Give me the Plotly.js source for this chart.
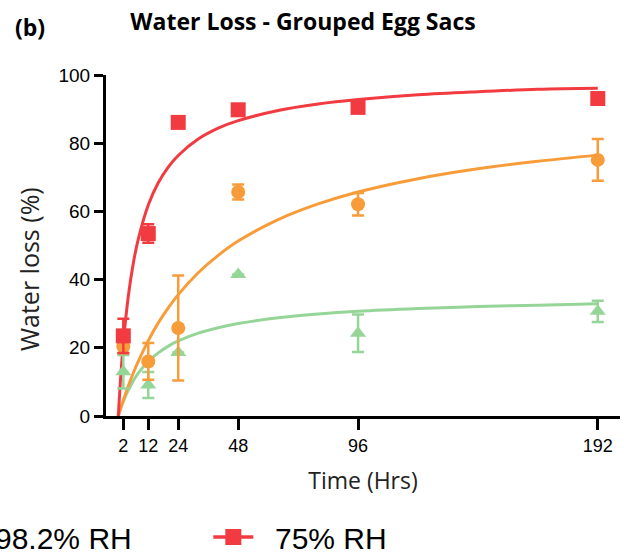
<!DOCTYPE html>
<html>
<head>
<meta charset="utf-8">
<script src="https://cdn.plot.ly/plotly-3.0.1.min.js"></script>
<style>
  html, body { margin: 0; padding: 0; background: #fff; overflow: hidden; }
  #chart { width: 624px; height: 558px; }
</style>
</head>
<body>
<div id="chart"></div>
<script>
// ---- Data ----
const hours = [2, 12, 24, 48, 96, 192];
const hourLabels = ['2', '12', '24', '48', '96', '192'];

const rh75 = [23.5, 53.5, 86.1, 89.8, 90.5, 93.1];
const rh75Err = [5.0, 2.7, 0, 0, 0, 0];

const orangeVals = [20.4, 16.0, 25.8, 65.7, 62.1, 75.1];
const orangeErr = [2.0, 5.4, 15.4, 2.2, 3.3, 6.1];

const rh982 = [13.0, 9.1, 18.6, 41.5, 24.3, 30.7];
const rh982Err = [4.9, 3.8, 0, 0, 5.5, 3.1];

// fitted curves
const fitHours = [0, 1, 2, 4, 6, 8, 12, 16, 20, 24, 32, 40, 48, 64, 80, 96, 120, 144, 168, 192];
const fit75 = [0, 11.9, 21.3, 35.1, 44.8, 51.9, 61.9, 68.4, 73.0, 76.4, 81.2, 84.4, 86.6, 89.6, 91.5, 92.8, 94.2, 95.1, 95.8, 96.1];
const fitOrange = [0, 2.4, 4.6, 8.8, 12.6, 16.0, 22.1, 27.3, 31.7, 35.6, 42.0, 47.1, 51.3, 57.6, 62.2, 65.7, 69.6, 72.5, 74.7, 76.5];
const fit982 = [0, 2.3, 4.3, 7.6, 10.3, 12.6, 16.0, 18.5, 20.5, 22.0, 24.3, 25.9, 27.1, 28.8, 29.9, 30.7, 31.5, 32.1, 32.5, 32.9];

const yTicks = [0, 20, 40, 60, 80, 100];
const seriesNames = ['98.2% RH', '75% RH'];

// ---- Styles ----
const RED = '#F23B40';
const ORANGE = '#F89C3A';
const GREEN = '#96D598';
const tickFont = { family: 'Liberation Sans, Arial, sans-serif', size: 19, color: '#000' };
const titleFamily = 'Open Sans, sans-serif';
const PAD = '\u00a0\u00a0';

function curve(x, y, color) {
  return { x: x, y: y, type: 'scatter', mode: 'lines', line: { color: color, width: 3, shape: 'spline', smoothing: 1 },
           showlegend: false, hoverinfo: 'skip', cliponaxis: false };
}
function points(x, y, err, color, symbol, size) {
  return { x: x, y: y, type: 'scatter', mode: 'markers', showlegend: false, cliponaxis: false,
           marker: { color: color, symbol: symbol, size: size },
           error_y: { type: 'data', array: err, visible: true, color: color, thickness: 2.5, width: 6 } };
}
function legendEntry(name, color, symbol) {
  return { x: [null], y: [null], type: 'scatter', mode: 'lines+markers', name: PAD + name,
           line: { color: color, width: 3.5 }, marker: { color: color, symbol: symbol, size: 16 } };
}

const data = [
  curve(fitHours, fit982, GREEN),
  curve(fitHours, fitOrange, ORANGE),
  curve(fitHours, fit75, RED),
  points(hours, rh982, rh982Err, GREEN, 'triangle-up', 14),
  points(hours, orangeVals, orangeErr, ORANGE, 'circle', 14),
  points(hours, rh75, rh75Err, RED, 'square', 15),
  legendEntry(seriesNames[0], GREEN, 'triangle-up'),
  legendEntry(seriesNames[1], RED, 'square')
];

const layout = {
  width: 624, height: 558,
  margin: { l: 106, r: 4, t: 75, b: 142, autoexpand: false },
  paper_bgcolor: '#fff', plot_bgcolor: '#fff',
  title: { text: '<b>Water Loss - Grouped Egg Sacs</b>', font: { family: titleFamily, size: 23, color: '#000' },
           xref: 'container', x: 0.4856, xanchor: 'center', yref: 'container', y: 0.9606, yanchor: 'middle' },
  xaxis: {
    range: [-4.93, 200.9], tickmode: 'array', tickvals: hours, ticktext: hourLabels,
    ticks: 'outside', ticklen: 11, tickwidth: 3, tickcolor: '#000',
    showline: true, linewidth: 3, linecolor: '#000', showgrid: false, zeroline: false,
    tickfont: { family: tickFont.family, size: 18, color: '#000' },
    title: { text: 'Time (Hrs)', font: { family: titleFamily, size: 23, color: '#222' }, standoff: 19 }
  },
  yaxis: {
    range: [0, 100], tickmode: 'array', tickvals: yTicks,
    ticks: 'outside', ticklen: 9, tickwidth: 3, tickcolor: '#000',
    showline: true, linewidth: 3, linecolor: '#000', showgrid: false, zeroline: false,
    tickfont: tickFont
  },
  showlegend: true,
  legend: {
    orientation: 'h', x: -0.3457, xanchor: 'left', y: -0.355, yanchor: 'middle',
    font: { family: 'Liberation Sans, Arial, sans-serif', size: 30, color: '#000' },
    itemwidth: 40, entrywidth: 225, bgcolor: 'rgba(0,0,0,0)', borderwidth: 0
  },
  annotations: [
    { text: '<b>(b)</b>', xref: 'paper', yref: 'paper', x: -0.181, y: 1.1408, xanchor: 'left', yanchor: 'middle',
      showarrow: false, font: { family: titleFamily, size: 23, color: '#000' } },
    { text: 'Water loss (%)', xref: 'paper', yref: 'paper', x: -0.1498, y: 0.431, xanchor: 'center', yanchor: 'middle',
      textangle: -90, showarrow: false, font: { family: titleFamily, size: 25, color: '#222' } }
  ]
};

Plotly.newPlot('chart', data, layout, { displayModeBar: false, staticPlot: true });
</script>
</body>
</html>
